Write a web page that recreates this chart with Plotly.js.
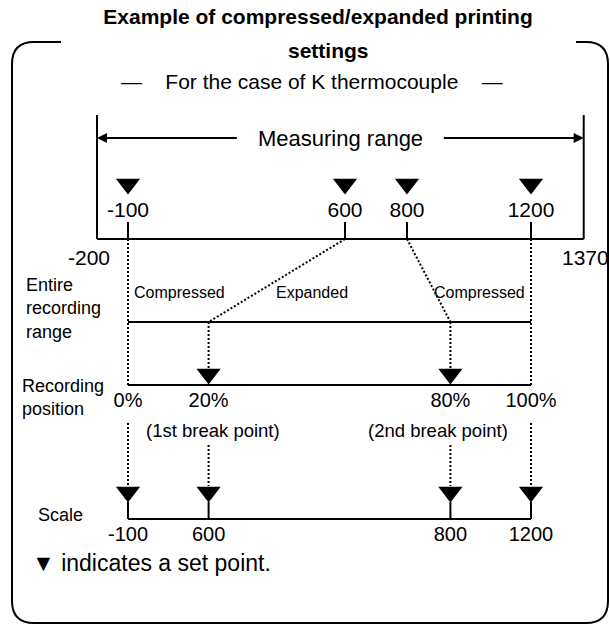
<!DOCTYPE html>
<html><head><meta charset="utf-8">
<script src="https://cdn.plot.ly/plotly-3.0.1.min.js"></script>
<style>html,body{margin:0;padding:0;background:#fff}#chart{width:610px;height:625px}</style>
</head><body><div id="chart"></div>
<script>
// ---------------- data ----------------
const setPoints = [-100, 600, 800, 1200];              // set points (°C), marked with ▼
const setPointLabels = ['-100', '600', '800', '1200'];
const measuringRange = [-200, 1370];                    // K thermocouple measuring range (°C)
const measuringRangeLabels = ['-200', '1370'];
const recordingPercent = [0, 20, 80, 100];              // recording position of each set point (%)
const recordingPercentLabels = ['0%', '20%', '80%', '100%'];
const breakPointLabels = ['(1st break point)', '(2nd break point)'];
const sectionLabels = ['Compressed', 'Expanded', 'Compressed'];
const rowLabels = ['Entire<br>recording<br>range', 'Recording<br>position', 'Scale'];
const titleText = 'Example of compressed/expanded printing';
const titleText2 = 'settings';
const subtitleText = '—    For the case of K thermocouple    —';
const rangeText = 'Measuring range';
const noteText = '▼ indicates a set point.';

// ---------------- layout geometry ----------------
const W = 610, H = 625;
const PX_L = 128, PX_R = 531;                 // pixel position of the recording range ends
const recLo = setPoints[0], recHi = setPoints[setPoints.length - 1];
const k = (PX_R - PX_L) / (recHi - recLo);
const xRange = [recLo - PX_L / k, recLo + (W - PX_L) / k];
const pctToT = p => recLo + (recHi - recLo) * p / 100;
const ROW = {
  title: 17, title2: 50, sub: 81, bracketTop: 115, arrow: 138, tri1: 184, lab1: 212,
  tickTop: 222, base: 239, endLab: 257, section: 292, rec: 322, tri2: 374, pos: 385,
  pctLab: 402, brk: 430, dotTopEnd: 423, dotTopMid: 445, tri3: 492, stemTop: 502, scale: 519,
  scaleLab: 536, note: 563
};
const FONT = 'Arial, "Liberation Sans", Helvetica, sans-serif';
const BLACK = '#000';

// ---------------- traces ----------------
const solidX = [], solidY = [];
function seg(x0, y0, x1, y1, X, Y) { X.push(x0, x1, null); Y.push(y0, y1, null); }
seg(measuringRange[0], ROW.bracketTop, measuringRange[0], ROW.base, solidX, solidY);
seg(measuringRange[1], ROW.bracketTop, measuringRange[1], ROW.base, solidX, solidY);
seg(measuringRange[0], ROW.base, measuringRange[1], ROW.base, solidX, solidY);
setPoints.forEach(t => seg(t, ROW.tickTop, t, ROW.base, solidX, solidY));
seg(pctToT(0), ROW.rec, pctToT(100), ROW.rec, solidX, solidY);
seg(pctToT(0), ROW.pos, pctToT(100), ROW.pos, solidX, solidY);
recordingPercent.forEach(p => seg(pctToT(p), ROW.stemTop, pctToT(p), ROW.scale, solidX, solidY));
seg(pctToT(0), ROW.scale, pctToT(100), ROW.scale, solidX, solidY);

const dotX = [], dotY = [];
setPoints.forEach((t, i) => {
  const p = recordingPercent[i];
  const tr = pctToT(p);
  if (p === 0 || p === 100) {
    seg(t, ROW.base, tr, ROW.pos, dotX, dotY);
    seg(tr, ROW.dotTopEnd, tr, ROW.tri3 - 6, dotX, dotY);
  } else {
    seg(t, ROW.base, tr, ROW.rec, dotX, dotY);
    seg(tr, ROW.rec, tr, ROW.tri2 - 6, dotX, dotY);
    seg(tr, ROW.dotTopMid, tr, ROW.tri3 - 6, dotX, dotY);
  }
});

const triMarker = { symbol: 'triangle-down', size: 21, color: BLACK };
const breakPct = recordingPercent.filter(p => p > 0 && p < 100);

const traces = [
  { type: 'scatter', mode: 'lines', x: solidX, y: solidY, line: { color: BLACK, width: 2 }, hoverinfo: 'skip' },
  { type: 'scatter', mode: 'lines', x: dotX, y: dotY, line: { color: BLACK, width: 2, dash: '2px,2px' }, hoverinfo: 'skip' },
  { type: 'scatter', mode: 'markers', x: setPoints, y: setPoints.map(() => ROW.tri1), marker: triMarker, hoverinfo: 'skip' },
  { type: 'scatter', mode: 'markers', x: breakPct.map(pctToT), y: breakPct.map(() => ROW.tri2), marker: triMarker, hoverinfo: 'skip' },
  { type: 'scatter', mode: 'markers', x: recordingPercent.map(pctToT), y: recordingPercent.map(() => ROW.tri3), marker: triMarker, hoverinfo: 'skip' },
  { type: 'scatter', mode: 'text', x: setPoints, y: setPoints.map(() => ROW.lab1), text: setPointLabels,
    textposition: 'middle center', textfont: { family: FONT, size: 21, color: BLACK }, hoverinfo: 'skip' },
  { type: 'scatter', mode: 'text', x: recordingPercent.map(pctToT), y: recordingPercent.map(() => ROW.scaleLab), text: setPointLabels,
    textposition: 'middle center', textfont: { family: FONT, size: 20, color: BLACK }, hoverinfo: 'skip' },
  { type: 'scatter', mode: 'text', x: recordingPercent.map(pctToT), y: recordingPercent.map(() => ROW.pctLab), text: recordingPercentLabels,
    textposition: 'middle center', textfont: { family: FONT, size: 20, color: BLACK }, hoverinfo: 'skip' }
];

// ---------------- annotations ----------------
const ann = [];
function txt(o) { return Object.assign({ xref: 'x', yref: 'y', showarrow: false, yanchor: 'middle', font: { family: FONT, size: 21, color: BLACK } }, o); }
ann.push(txt({ xref: 'paper', x: 328 / W, y: ROW.title2, text: '<b>' + titleText2 + '</b>' }));
ann.push(txt({ xref: 'paper', x: 312 / W, y: ROW.sub, text: subtitleText }));
const midRange = (measuringRange[0] + measuringRange[1]) / 2;
const gapHalf = 102 / k;
ann.push(txt({ x: midRange, y: ROW.arrow, text: rangeText, font: { family: FONT, size: 22, color: BLACK } }));
ann.push({ xref: 'x', yref: 'y', axref: 'x', ayref: 'y', x: measuringRange[0], y: ROW.arrow, ax: midRange - gapHalf, ay: ROW.arrow,
  text: '', showarrow: true, arrowhead: 2, arrowsize: 1, arrowwidth: 2, arrowcolor: BLACK, standoff: 0 });
ann.push({ xref: 'x', yref: 'y', axref: 'x', ayref: 'y', x: measuringRange[1], y: ROW.arrow, ax: midRange + gapHalf, ay: ROW.arrow,
  text: '', showarrow: true, arrowhead: 2, arrowsize: 1, arrowwidth: 2, arrowcolor: BLACK, standoff: 0 });
ann.push(txt({ x: measuringRange[0], xshift: -8, y: ROW.endLab, text: measuringRangeLabels[0] }));
ann.push(txt({ x: measuringRange[1], xshift: 2, y: ROW.endLab, text: measuringRangeLabels[1] }));
ann.push(txt({ x: pctToT(0), xanchor: 'left', xshift: 4, y: ROW.section, text: sectionLabels[0], font: { family: FONT, size: 16, color: BLACK } }));
ann.push(txt({ x: pctToT(50), xshift: -18, y: ROW.section, text: sectionLabels[1], font: { family: FONT, size: 16, color: BLACK } }));
ann.push(txt({ x: pctToT(100), xanchor: 'right', xshift: -4, y: ROW.section, text: sectionLabels[2], font: { family: FONT, size: 16, color: BLACK } }));
ann.push(txt({ x: pctToT(breakPct[0]), xshift: 4, y: ROW.brk, text: breakPointLabels[0], font: { family: FONT, size: 18.5, color: BLACK } }));
ann.push(txt({ x: pctToT(breakPct[1]), xshift: -12, y: ROW.brk, text: breakPointLabels[1], font: { family: FONT, size: 18.5, color: BLACK } }));
ann.push(txt({ xref: 'paper', x: 24 / W, xanchor: 'left', align: 'left', y: 308, text: rowLabels[0], font: { family: FONT, size: 18, color: BLACK } }));
ann.push(txt({ xref: 'paper', x: 20 / W, xanchor: 'left', align: 'left', y: 397, text: rowLabels[1], font: { family: FONT, size: 18, color: BLACK } }));
ann.push(txt({ xref: 'paper', x: 36 / W, xanchor: 'left', align: 'left', y: 515, text: rowLabels[2], font: { family: FONT, size: 18, color: BLACK } }));
ann.push(txt({ xref: 'paper', x: 30 / W, xanchor: 'left', align: 'left', y: ROW.note, text: noteText, font: { family: FONT, size: 23, color: BLACK } }));

// ---------------- frame ----------------
const P = px => (px / W).toFixed(4);
const bx0 = 12, bx1 = 608, by0 = 42, by1 = 623, r = 22;
const framePath =
  `M${P(61)},${by0} L${P(bx0 + r)},${by0} Q${P(bx0)},${by0} ${P(bx0)},${by0 + r} L${P(bx0)},${by1 - r} ` +
  `Q${P(bx0)},${by1} ${P(bx0 + r)},${by1} L${P(bx1 - r)},${by1} Q${P(bx1)},${by1} ${P(bx1)},${by1 - r} ` +
  `L${P(bx1)},${by0 + r} Q${P(bx1)},${by0} ${P(bx1 - r)},${by0} L${P(576)},${by0}`;

const layout = {
  width: W, height: H, margin: { l: 0, r: 0, t: 0, b: 0 },
  paper_bgcolor: '#fff', plot_bgcolor: '#fff', showlegend: false, hovermode: false,
  title: { text: '<b>' + titleText + '</b>', x: 318 / W, xanchor: 'center', y: 1 - ROW.title / H, yanchor: 'middle', yref: 'container',
    font: { family: FONT, size: 21, color: BLACK } },
  xaxis: { range: xRange, visible: false, fixedrange: true },
  yaxis: { range: [H, 0], visible: false, fixedrange: true },
  shapes: [{ type: 'path', xref: 'paper', yref: 'y', path: framePath, line: { color: BLACK, width: 2 } }],
  annotations: ann
};

Plotly.newPlot('chart', traces, layout, { displayModeBar: false, staticPlot: true });
</script>
</body></html>
